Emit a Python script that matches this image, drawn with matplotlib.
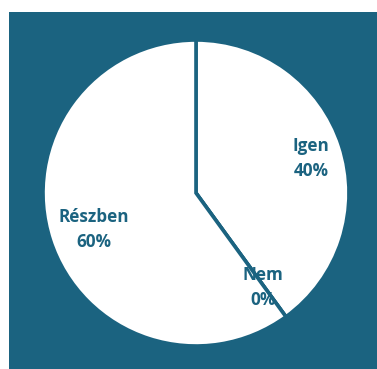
import matplotlib.pyplot as plt
import numpy as np
from matplotlib.patches import Rectangle

labels = ["Igen", "Nem", "Részben"]
values = [40, 0, 60]
label_radius = [0.79, 0.74, 0.70]

teal = "#1b6380"

fig = plt.figure(figsize=(3.77, 3.69), dpi=100)
fig.patch.set_facecolor("white")
fig.patches.append(Rectangle((9 / 377, 0), 1, (369 - 12) / 369,
                             transform=fig.transFigure, facecolor=teal,
                             edgecolor="none", zorder=-10))

ax = fig.add_axes([(196 - 153) / 377, (176 - 153) / 369, 306 / 377, 306 / 369])
ax.set_facecolor("none")
ax.set_zorder(5)

wedges, _ = ax.pie(values, startangle=90, counterclock=False,
                   colors=["white"] * 3,
                   wedgeprops=dict(edgecolor=teal, linewidth=2.6))

total = sum(values)
start = 90.0
for lab, v, r in zip(labels, values, label_radius):
    mid = np.deg2rad(start - 360 * v / total / 2)
    start -= 360 * v / total
    ax.text(r * np.cos(mid), r * np.sin(mid) - 0.02, f"{lab}\n{v}%",
            ha="center", va="center", color=teal, fontsize=12.3,
            fontweight="bold", family="Open Sans", linespacing=1.5)

ax.set_xlim(-1, 1)
ax.set_ylim(-1, 1)
ax.axis("off")

fig.savefig("out.png", dpi=100)
